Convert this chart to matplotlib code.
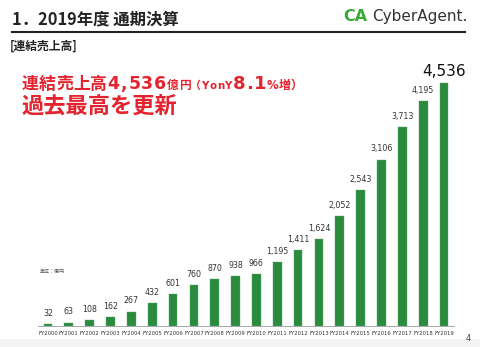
import matplotlib
matplotlib.use("Agg")
import matplotlib.pyplot as plt
from matplotlib.patches import Rectangle

plt.rcParams['font.family'] = ['Noto Sans CJK JP', 'DejaVu Sans']

years = ["FY2000", "FY2001", "FY2002", "FY2003", "FY2004", "FY2005", "FY2006",
         "FY2007", "FY2008", "FY2009", "FY2010", "FY2011", "FY2012", "FY2013",
         "FY2014", "FY2015", "FY2016", "FY2017", "FY2018", "FY2019"]
sales = [32, 63, 108, 162, 267, 432, 601, 760, 870, 938, 966, 1195, 1411,
         1624, 2052, 2543, 3106, 3713, 4195, 4536]

W, H = 480, 347
fig = plt.figure(figsize=(W / 100, H / 100), dpi=100)
fig.patch.set_facecolor("white")
renderer = fig.canvas.get_renderer()

def fx(px):
    return px / W

def fy(py):
    return 1 - py / H

# bottom light band
fig.add_artist(Rectangle((0, 0), 1, fy(339), transform=fig.transFigure,
                         facecolor="#f3f3f3", edgecolor="none", zorder=0))

# axes
base_px, top_px = 326, 52
ax = fig.add_axes([fx(37.6), fy(base_px), fx(454.4) - fx(37.6), fy(top_px) - fy(base_px)])
ax.set_facecolor("none")
green = "#2a8a3e"
x = list(range(len(years)))
ax.bar(x, sales, width=0.42, color=green, edgecolor="#5aa86a", linewidth=0.3, zorder=2)
ax.set_xlim(-0.5, len(years) - 0.5)
ax.set_ylim(0, 4536 * (base_px - top_px) / (base_px - 83))
for s in ["top", "right", "left"]:
    ax.spines[s].set_visible(False)
ax.spines["bottom"].set_color("#999999")
ax.spines["bottom"].set_linewidth(0.6)
ax.set_yticks([])
ax.set_xticks(x)
ax.set_xticklabels(years, fontsize=3.8, color="#333333", family="DejaVu Sans")
ax.tick_params(axis="x", length=0, pad=3.5)

for i, v in enumerate(sales):
    last = i == len(sales) - 1
    ax.annotate(f"{v:,}", (i, v), xytext=(0, 3 if last else 4.5), textcoords="offset points",
                ha="center", va="bottom", fontsize=11 if last else 5.7,
                color="#111111" if last else "#333333", family="DejaVu Sans")

# title
fig.text(fx(12), fy(24), "1．2019年度 通期決算", fontsize=11.8, weight="bold",
         color="#222222", va="baseline")
fig.add_artist(plt.Line2D([fx(12), fx(465)], [fy(32), fy(32)], transform=fig.transFigure,
                          color="#222222", linewidth=1.5))
fig.text(fx(10), fy(50), "[連結売上高]", fontsize=8.5, weight="bold", color="#222222",
         va="baseline")

# logo
fig.text(fx(343), fy(21), "CA", fontsize=11.5, weight="bold", color="#3aa935",
         va="baseline", family="DejaVu Sans")
fig.text(fx(372), fy(21), "CyberAgent.", fontsize=11, color="#333333",
         va="baseline", family="DejaVu Sans")

# red headline with mixed sizes, each piece fitted to its span
red = "#e5232e"

def fitted(s, x0, x1, ybase, size, family=None):
    """Place characters of s between pixel x0 and x1 with even tracking."""
    kw = dict(fontsize=size, weight="bold", color=red, va="baseline")
    if family:
        kw["family"] = family
    widths = []
    for ch in s:
        t = fig.text(0, 0, ch, **kw)
        widths.append(t.get_window_extent(renderer).width)
        t.remove()
    extra = max(0.0, (x1 - x0 - sum(widths)) / len(s))
    xp = x0 + extra / 2
    for ch, w in zip(s, widths):
        fig.text(fx(xp), fy(ybase), ch, **kw)
        xp += w + extra

fitted("連結売上高", 22, 107, 89, 12.2)
fitted("4,536", 107, 167, 89, 12.5, ["DejaVu Sans"])
fitted("億円", 167, 190, 89, 8.4)
fitted("（", 190, 201, 89, 7.8)
fitted("YonY", 201, 232, 89, 7.4, ["DejaVu Sans"])
fitted("8.1", 233, 267, 89, 13, ["DejaVu Sans"])
fitted("%", 267, 278, 89, 8.5, ["DejaVu Sans"])
fitted("増）", 278, 303, 89, 8.6)

fig.text(fx(21), fy(113), "過去最高を更新", fontsize=16, weight="bold", color=red,
         va="baseline")

# unit and page number
fig.text(fx(40), fy(273), "単位：億円", fontsize=3.6, color="#555555", va="baseline")
fig.text(fx(466), fy(341), "4", fontsize=6, color="#444444", va="baseline",
         family="DejaVu Sans")

fig.savefig("out.png", dpi=100, facecolor="white")
